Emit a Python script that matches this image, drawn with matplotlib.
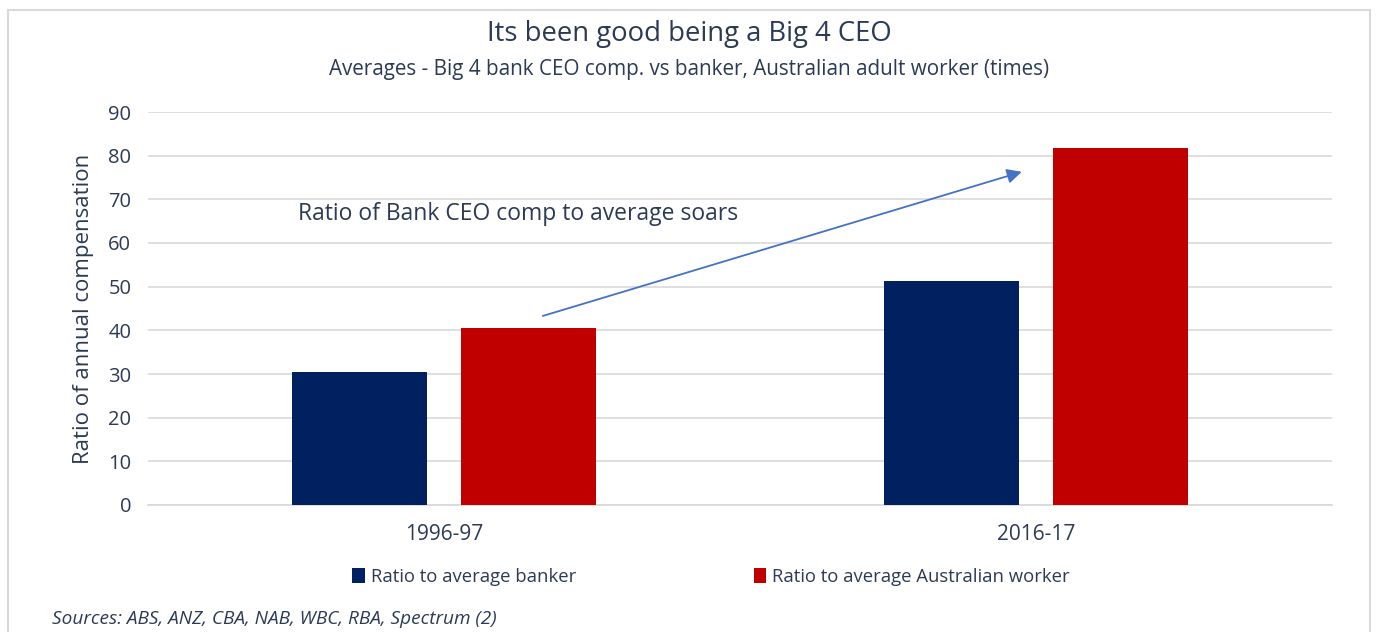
import numpy as np
import matplotlib.pyplot as plt
from matplotlib.patches import Rectangle

plt.rcParams['font.family'] = ['Open Sans', 'DejaVu Sans']

# data
periods = ['1996-97', '2016-17']
banker = [30.5, 51.3]
worker = [40.5, 81.8]
series_names = ['Ratio to average banker', 'Ratio to average Australian worker']
colors = ['#002060', '#C00000']
txt = '#2b3a55'

fig = plt.figure(figsize=(13.78, 6.32), dpi=100)
ax = fig.add_axes([148/1378, 1 - 505/632, (1332-148)/1378, (505-112)/632])

x = np.arange(len(periods))
w = 0.228
ax.bar(x - 0.143, banker, w, color=colors[0], label=series_names[0], zorder=3)
ax.bar(x + 0.143, worker, w, color=colors[1], label=series_names[1], zorder=3)

ax.set_xlim(-0.5, 1.5)
ax.set_ylim(0, 90)
ax.set_yticks(np.arange(0, 91, 10))
ax.set_xticks(x)
ax.set_xticklabels(periods)
ax.yaxis.grid(True, color='#d9d9d9', linewidth=1.2, zorder=0)
for s in ['top', 'right', 'left']:
    ax.spines[s].set_visible(False)
ax.spines['bottom'].set_color('#d9d9d9')
ax.spines['bottom'].set_linewidth(1.2)
ax.tick_params(axis='y', length=0, labelsize=14.5, labelcolor=txt, pad=12)
ax.tick_params(axis='x', length=0, labelsize=15, labelcolor=txt, pad=14)
ax.set_ylabel('Ratio of annual compensation', fontsize=16, color=txt, labelpad=10)

# arrow + note
ax.annotate('', xy=(0.976, 76.3), xytext=(0.167, 43.3),
            arrowprops=dict(arrowstyle='-|>', color='#4472C4', lw=1.3,
                            mutation_scale=22, shrinkA=0, shrinkB=0))
ax.text(-0.247, 66.6, 'Ratio of Bank CEO comp to average soars', fontsize=16.5,
        color=txt, va='center', ha='left')

fig.text(0.5, 1 - 34/632, 'Its been good being a Big 4 CEO', ha='center', va='center',
         fontsize=19.8, color=txt)
fig.text(0.5, 1 - 70/632, 'Averages - Big 4 bank CEO comp. vs banker, Australian adult worker (times)',
         ha='center', va='center', fontsize=14.9, color=txt)

fig.legend(loc='center', bbox_to_anchor=(0.516, 1 - 577/632), ncol=2, frameon=False,
           fontsize=13.3, labelcolor=txt, handlelength=0.7, handleheight=0.9,
           handletextpad=0.3, columnspacing=9.6)

fig.text(52/1378, 1 - 619/632, 'Sources: ABS, ANZ, CBA, NAB, WBC, RBA, Spectrum (2)',
         ha='left', va='center', fontsize=13.7, style='italic', color=txt)

fig.patches.append(Rectangle((8/1378, -0.05), (1370-8)/1378, 1.05 - 10/632,
                             transform=fig.transFigure, fill=False,
                             edgecolor='#d9d9d9', linewidth=1.5))

fig.savefig('out.png', dpi=100)
